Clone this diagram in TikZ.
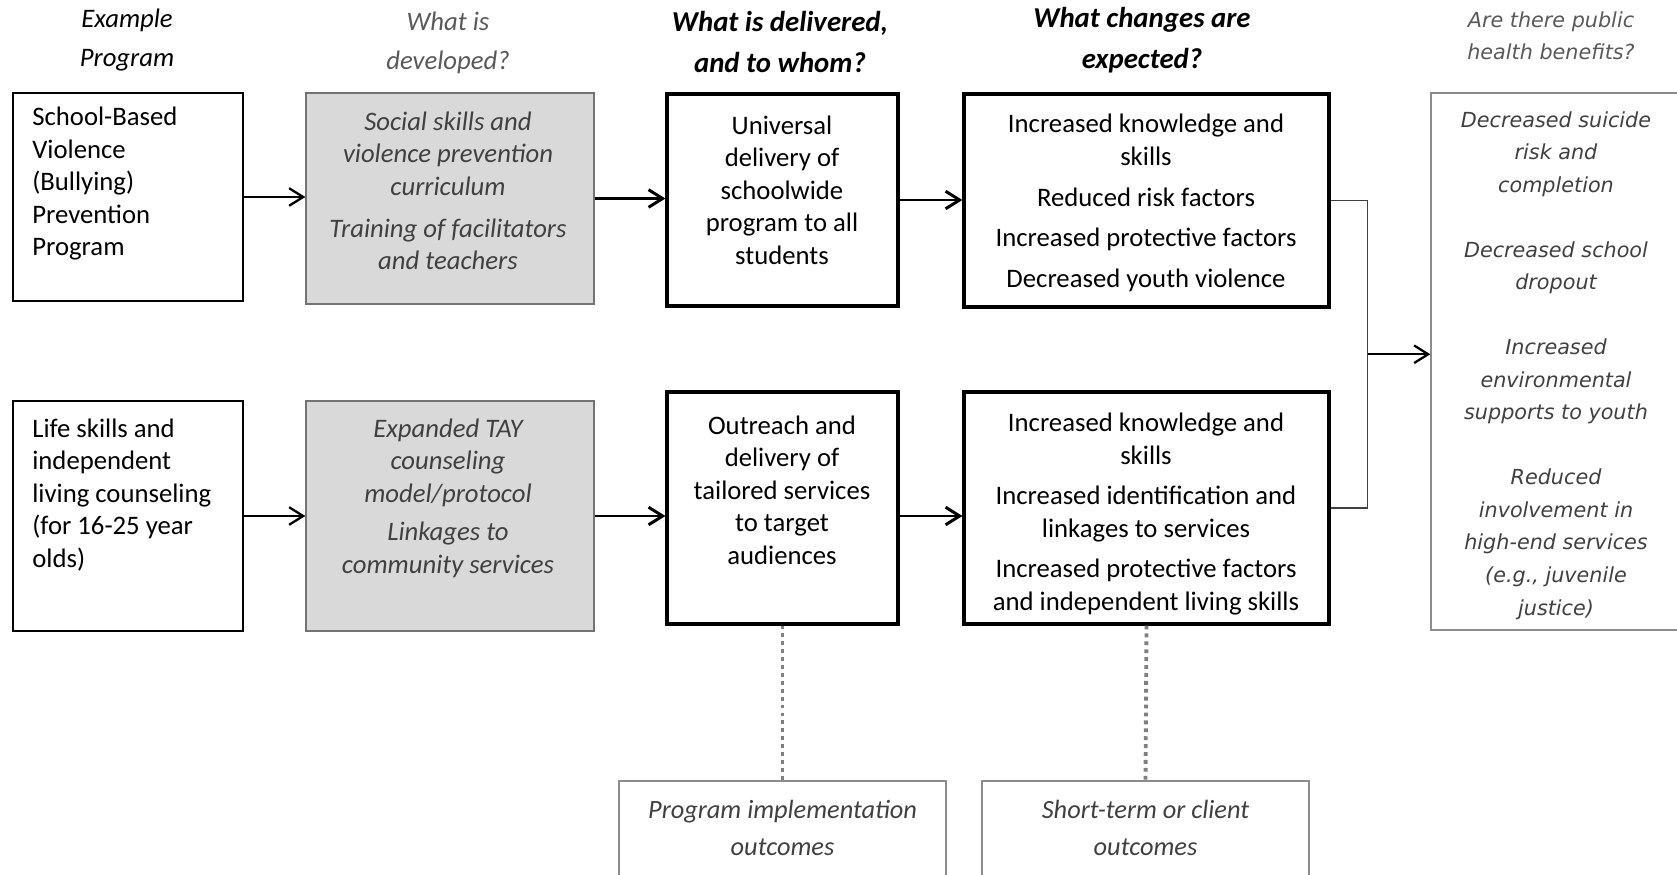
\documentclass[tikz,border=0pt]{standalone}
\usepackage{fontspec}
\setmainfont{Carlito}
\newfontfamily\verdfont{DejaVu Sans}
\usetikzlibrary{arrows.meta, positioning, calc}
\definecolor{boxgray}{HTML}{D9D9D9}
\definecolor{txtgray}{HTML}{595959}
\definecolor{devtext}{HTML}{404040}
\definecolor{linegray}{HTML}{8C8C8C}

\begin{document}
\begin{tikzpicture}[x=0.02cm, y=-0.02cm, >={Straight Barb[length=8pt,width=10pt]}]
    \tikzstyle{plain box}=[draw=black, line width=0.8pt, inner sep=0pt]
    \tikzstyle{dev box}=[draw=black!55, fill=boxgray, line width=0.8pt, inner sep=0pt]
    \tikzstyle{key box}=[draw=black, line width=1.8pt, inner sep=0pt]
    \tikzstyle{out box}=[draw=linegray, line width=0.8pt, inner sep=0pt]
    \tikzstyle{head}=[align=center, inner sep=0pt, font=\fontsize{15.2}{22.2}\selectfont\itshape]
    \tikzstyle{key head}=[head, font=\fontsize{16.4}{23.3}\selectfont\bfseries\itshape]
    \tikzstyle{body}=[align=center, inner sep=0pt, font=\fontsize{15.2}{18.5}\selectfont]
    \tikzstyle{dev text}=[body, text=devtext, font=\fontsize{15.2}{18.5}\selectfont\itshape]
    \tikzstyle{out text}=[body, text=devtext, font=\fontsize{15}{21}\selectfont\itshape]
    \tikzstyle{benefit text}=[align=center, inner sep=0pt, text=devtext, font=\verdfont\fontsize{11.8}{18.5}\selectfont\itshape]
    \tikzstyle{arr}=[->, line width=1.3pt]
    \tikzstyle{dots}=[draw=black!50, line width=2.2pt, dash pattern=on 2.2pt off 2.3pt]

    \useasboundingbox (0,0) rectangle (1677,875);
    \clip (0,0) rectangle (1677,875);

%   column questions
    \node[head] (h-prog) at (127,40.5) {Example\\Program};
    \node[head, text=txtgray] (h-dev) at (448,42.5) {What is\\developed?};
    \node[key head] (h-deliv) at (780,42) {What is delivered,\\and to whom?};
    \node[key head] (h-chg) at (1142,40) {What changes are\\expected?};
    \node[benefit text, text=txtgray] (h-ben) at (1551,36) {Are there public\\health benefits?};

%   boxes
    \node[plain box, minimum width=4.6cm, minimum height=4.16cm] (prog1) at (128,197) {};
    \node[dev box, minimum width=5.76cm, minimum height=4.22cm] (dev1) at (450,198.5) {};
    \node[key box, minimum width=4.62cm, minimum height=4.24cm] (deliv1) at (782.5,200) {};
    \node[key box, minimum width=7.3cm, minimum height=4.26cm] (chg1) at (1146.5,200.5) {};

    \node[plain box, minimum width=4.6cm, minimum height=4.6cm] (prog2) at (128,516) {};
    \node[dev box, minimum width=5.76cm, minimum height=4.6cm] (dev2) at (450,516) {};
    \node[key box, minimum width=4.62cm, minimum height=4.64cm] (deliv2) at (782.5,508) {};
    \node[key box, minimum width=7.3cm, minimum height=4.64cm] (chg2) at (1146.5,508) {};

    \node[out box, minimum width=5cm, minimum height=10.74cm] (ben) at (1556,361.5) {};
    \node[out box, minimum width=6.54cm, minimum height=2.4cm] (impl) at (782.5,841) {};
    \node[out box, minimum width=6.54cm, minimum height=2.4cm] (short) at (1145.5,841) {};

%   box texts
    \node[body, align=left, anchor=west] (prog1-txt) at (32,184)
        {School-Based\\Violence\\(Bullying)\\Prevention\\Program};
    \node[body, align=left, anchor=west] (prog2-txt) at (32,495)
        {Life skills and\\independent\\living counseling\\(for 16-25 year\\olds)};
    \node[dev text] (dev1-txt) at (448,191)
        {Social skills and\\violence prevention\\curriculum\\[5.4pt]Training of facilitators\\and teachers};
    \node[dev text] (dev2-txt) at (448,498)
        {Expanded TAY\\counseling\\model/protocol\\[3.4pt]Linkages to\\community services};
    \node[body] (deliv1-txt) at (782,190)
        {Universal\\delivery of\\schoolwide\\program to all\\students};
    \node[body] (deliv2-txt) at (782,490)
        {Outreach and\\delivery of\\tailored services\\to target\\audiences};
    \node[body] (chg1-txt) at (1146,203)
        {Increased knowledge and\\skills\\[4.6pt]Reduced risk factors\\[4.6pt]Increased protective factors\\[4.6pt]Decreased youth violence};
    \node[body] (chg2-txt) at (1146,514)
        {Increased knowledge and\\skills\\[4.6pt]Increased identification and\\linkages to services\\[4.6pt]Increased protective factors\\and independent living skills};
    \node[benefit text] (ben-txt) at (1556,365.5)
        {Decreased suicide\\risk and\\completion\\[18.5pt]Decreased school\\dropout\\[18.5pt]Increased\\environmental\\supports to youth\\[18.5pt]Reduced\\involvement in\\high-end services\\(e.g., juvenile\\justice)};
    \node[out text] (impl-txt) at (782.5,827.5) {Program implementation\\outcomes};
    \node[out text] (short-txt) at (1145.5,827.5) {Short-term or client\\outcomes};

%   arrows along the rows
    \draw[arr] (prog1.east) -- (prog1.east -| dev1.west);
    \draw[arr, line width=1.7pt] (dev1.east) -- (dev1.east -| deliv1.west);
    \draw[arr, line width=1.7pt] (deliv1.east) -- (deliv1.east -| chg1.west);
    \draw[arr] (prog2.east) -- (prog2.east -| dev2.west);
    \draw[arr, line width=1.7pt] (dev2.east) -- (dev2.east -| deliv2.west);
    \draw[arr, line width=1.7pt] (deliv2.east |- dev2.east) -- (dev2.east -| chg2.west);

%   both rows join into the benefits
    \draw[draw=devtext, line width=0.6pt] (chg1.east) -- ++(37,0) coordinate (brk) |- (chg2.east);
    \coordinate (join) at ($(brk)!0.5!(brk |- chg2.east)$);
    \draw[arr] (join) -- (join -| ben.west);

    \draw[dots] (deliv2.south) -- (impl.north);
    \draw[dots] (chg2.south) -- (short.north);
\end{tikzpicture}
\end{document}
